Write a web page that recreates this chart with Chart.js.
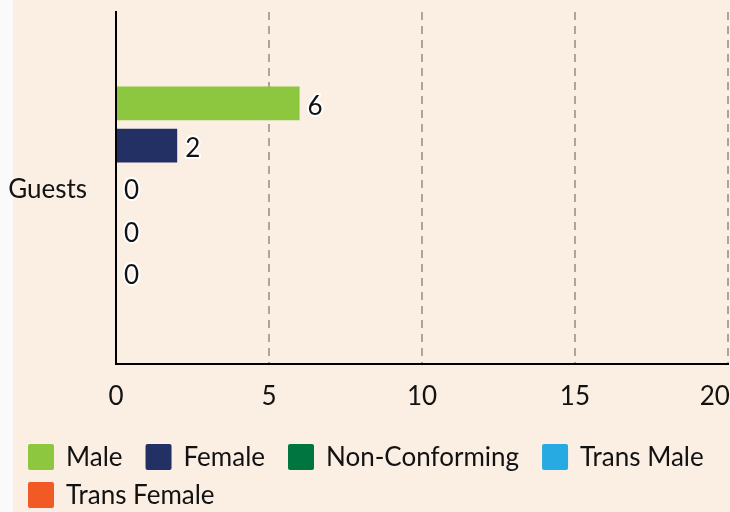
<!DOCTYPE html>
<html>
<head>
<meta charset="utf-8">
<script src="https://cdn.jsdelivr.net/npm/chart.js@4.4.1/dist/chart.umd.min.js"></script>
<style>
  html, body { margin: 0; padding: 0; background: #fafafa; overflow: hidden; width: 730px; height: 512px; }
  #bg { position: absolute; left: 13px; top: 0; width: 717px; height: 512px; background: #FBEFE4; }
  #c { position: absolute; left: 0; top: 0; }
</style>
</head>
<body>
<div id="bg"></div>
<canvas id="c" width="760" height="512"></canvas>
<script>
const categories = ['Guests'];
const seriesNames = ['Male', 'Female', 'Non-Conforming', 'Trans Male', 'Trans Female'];
const seriesValues = [[6], [2], [0], [0], [0]];
const seriesColors = ['#8DC63F', '#233064', '#00753F', '#27A9E1', '#F15A24'];
const xTicks = [0, 5, 10, 15, 20];

const FONT = 'Lato, "DejaVu Sans", sans-serif';
const TEXT = '#121212';

const valueLabels = {
  id: 'valueLabels',
  afterDatasetsDraw(chart) {
    const ctx = chart.ctx;
    ctx.save();
    ctx.font = '26px ' + FONT;
    ctx.textAlign = 'left';
    ctx.textBaseline = 'middle';
    ctx.lineJoin = 'round';
    chart.data.datasets.forEach((ds, i) => {
      const meta = chart.getDatasetMeta(i);
      meta.data.forEach((el, j) => {
        const v = ds.data[j];
        const x = el.x + 8, y = el.y + 3;
        ctx.lineWidth = 4;
        ctx.strokeStyle = '#ffffff';
        ctx.strokeText(String(v), x, y);
        ctx.fillStyle = TEXT;
        ctx.fillText(String(v), x, y);
      });
    });
    ctx.restore();
  }
};

// last x tick label is kept inside the plot edge (right-aligned to its grid line)
const lastTickLabel = {
  id: 'lastTickLabel',
  afterDraw(chart) {
    const sc = chart.scales.x;
    const last = xTicks[xTicks.length - 1];
    const ctx = chart.ctx;
    ctx.save();
    ctx.font = '26px ' + FONT;
    ctx.fillStyle = TEXT;
    ctx.textAlign = 'right';
    ctx.textBaseline = 'middle';
    const y = sc.top + 17 + 15.6;
    ctx.fillText(String(last), sc.getPixelForValue(last) + 2, y);
    ctx.restore();
  }
};

const customLegend = {
  id: 'customLegend',
  afterDraw(chart) {
    const ctx = chart.ctx;
    ctx.save();
    ctx.font = '26px ' + FONT;
    ctx.textBaseline = 'middle';
    ctx.textAlign = 'left';
    const startX = 28, box = 26, gapText = 12, gapItem = 23, rowH = 38, maxRight = 725;
    let x = startX, y = chart.height - 68;
    chart.data.datasets.forEach((ds) => {
      const w = box + gapText + ctx.measureText(ds.label).width;
      if (x > startX && x + w > maxRight) { x = startX; y += rowH; }
      ctx.fillStyle = ds.backgroundColor;
      ctx.beginPath();
      ctx.roundRect(x, y, box, box, 2);
      ctx.fill();
      ctx.fillStyle = TEXT;
      ctx.fillText(ds.label, x + box + gapText, y + box / 2 + 1);
      x += w + gapItem;
    });
    ctx.restore();
  }
};

new Chart(document.getElementById('c'), {
  type: 'bar',
  data: {
    labels: categories,
    datasets: seriesNames.map((n, i) => ({
      label: n,
      data: seriesValues[i],
      backgroundColor: seriesColors[i],
      borderWidth: 0,
      categoryPercentage: 0.6,
      barPercentage: 0.8
    }))
  },
  options: {
    indexAxis: 'y',
    responsive: false,
    animation: false,
    devicePixelRatio: 1,
    layout: { padding: { left: 8, top: 12, right: 31, bottom: 83 } },
    plugins: { legend: { display: false }, tooltip: { enabled: false } },
    scales: {
      x: {
        min: xTicks[0], max: xTicks[xTicks.length - 1],
        afterBuildTicks(scale) { scale.ticks = xTicks.map(v => ({ value: v })); },
        ticks: {
          font: { family: FONT, size: 26 }, padding: 17,
          color: (c) => c.tick && c.tick.value === xTicks[xTicks.length - 1] ? 'rgba(0,0,0,0)' : TEXT
        },
        grid: { color: (c) => c.tick && c.tick.value === 0 ? 'rgba(0,0,0,0)' : '#ABA39C', lineWidth: 2, drawTicks: false },
        border: { display: true, color: '#000', width: 2, dash: [8, 6] }
      },
      y: {
        ticks: { font: { family: FONT, size: 26 }, color: TEXT, padding: 29, labelOffset: 2 },
        grid: { display: false, drawTicks: false },
        border: { display: true, color: '#000', width: 2 },
        afterFit(scale) { scale.width = 108; scale.paddingTop = 0; scale.paddingBottom = 0; }
      }
    }
  },
  plugins: [valueLabels, lastTickLabel, customLegend]
});
</script>
</body>
</html>
